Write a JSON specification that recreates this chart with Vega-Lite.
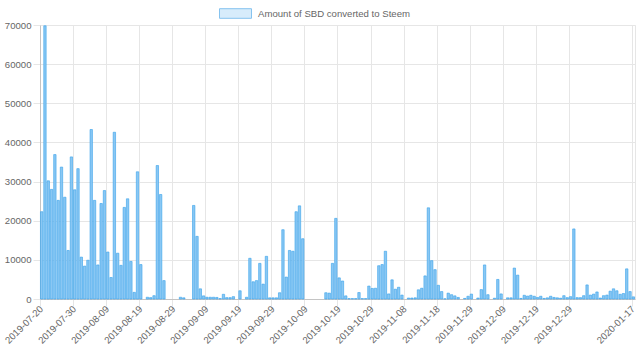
{
"$schema": "https://vega.github.io/schema/vega-lite/v6.json",
"width": 595, "height": 274,
"autosize": {"type": "none"},
"padding": {"left": 40, "top": 25, "right": 5, "bottom": 62},
"background": "white",
"view": {"stroke": "#e6e6e6"},
"config": {"font": "Liberation Sans"},
"data": {"values": [
{"date":"2019-07-20","value":22300},{"date":"2019-07-21","value":69800},{"date":"2019-07-22","value":30200},{"date":"2019-07-23","value":28000},{"date":"2019-07-24","value":36900},{"date":"2019-07-25","value":25200},{"date":"2019-07-26","value":33700},{"date":"2019-07-27","value":26000},{"date":"2019-07-28","value":12400},{"date":"2019-07-29","value":36300},
{"date":"2019-07-30","value":27900},{"date":"2019-07-31","value":33300},{"date":"2019-08-01","value":10700},{"date":"2019-08-02","value":8400},{"date":"2019-08-03","value":9900},{"date":"2019-08-04","value":43300},{"date":"2019-08-05","value":25200},{"date":"2019-08-06","value":8700},{"date":"2019-08-07","value":24400},{"date":"2019-08-08","value":27700},
{"date":"2019-08-09","value":12000},{"date":"2019-08-10","value":5500},{"date":"2019-08-11","value":42600},{"date":"2019-08-12","value":11700},{"date":"2019-08-13","value":8600},{"date":"2019-08-14","value":23400},{"date":"2019-08-15","value":25600},{"date":"2019-08-16","value":9600},{"date":"2019-08-17","value":1700},{"date":"2019-08-18","value":32500},
{"date":"2019-08-19","value":8800},{"date":"2019-08-20","value":0},{"date":"2019-08-21","value":450},{"date":"2019-08-22","value":350},{"date":"2019-08-23","value":850},{"date":"2019-08-24","value":34100},{"date":"2019-08-25","value":26700},{"date":"2019-08-26","value":4700},{"date":"2019-08-27","value":0},{"date":"2019-08-28","value":0},
{"date":"2019-08-29","value":0},{"date":"2019-08-30","value":0},{"date":"2019-08-31","value":450},{"date":"2019-09-02","value":300},{"date":"2019-09-03","value":0},{"date":"2019-09-04","value":0},{"date":"2019-09-05","value":23900},{"date":"2019-09-06","value":16000},{"date":"2019-09-07","value":2600},{"date":"2019-09-08","value":800},
{"date":"2019-09-09","value":450},{"date":"2019-09-10","value":450},{"date":"2019-09-11","value":450},{"date":"2019-09-12","value":400},{"date":"2019-09-13","value":100},{"date":"2019-09-14","value":1200},{"date":"2019-09-15","value":350},{"date":"2019-09-16","value":350},{"date":"2019-09-17","value":600},{"date":"2019-09-18","value":0},
{"date":"2019-09-19","value":2100},{"date":"2019-09-20","value":0},{"date":"2019-09-21","value":450},{"date":"2019-09-22","value":10400},{"date":"2019-09-23","value":4400},{"date":"2019-09-24","value":4700},{"date":"2019-09-25","value":9100},{"date":"2019-09-26","value":3800},{"date":"2019-09-27","value":10900},{"date":"2019-09-28","value":300},
{"date":"2019-09-29","value":300},{"date":"2019-09-30","value":300},{"date":"2019-10-01","value":1600},{"date":"2019-10-02","value":17700},{"date":"2019-10-03","value":5600},{"date":"2019-10-04","value":12400},{"date":"2019-10-05","value":12200},{"date":"2019-10-06","value":22300},{"date":"2019-10-07","value":23800},{"date":"2019-10-08","value":15400},
{"date":"2019-10-09","value":0},{"date":"2019-10-10","value":0},{"date":"2019-10-11","value":0},{"date":"2019-10-12","value":0},{"date":"2019-10-13","value":0},{"date":"2019-10-14","value":0},{"date":"2019-10-15","value":1600},{"date":"2019-10-16","value":1500},{"date":"2019-10-17","value":9100},{"date":"2019-10-18","value":20600},
{"date":"2019-10-19","value":5400},{"date":"2019-10-20","value":4600},{"date":"2019-10-21","value":800},{"date":"2019-10-22","value":100},{"date":"2019-10-23","value":100},{"date":"2019-10-24","value":100},{"date":"2019-10-25","value":1650},{"date":"2019-10-26","value":100},{"date":"2019-10-27","value":100},{"date":"2019-10-28","value":3300},
{"date":"2019-10-29","value":2700},{"date":"2019-10-30","value":2750},{"date":"2019-10-31","value":8500},{"date":"2019-11-01","value":8800},{"date":"2019-11-02","value":12200},{"date":"2019-11-03","value":1300},{"date":"2019-11-04","value":4900},{"date":"2019-11-05","value":2500},{"date":"2019-11-06","value":3000},{"date":"2019-11-07","value":1000},
{"date":"2019-11-08","value":0},{"date":"2019-11-09","value":250},{"date":"2019-11-10","value":250},{"date":"2019-11-11","value":300},{"date":"2019-11-12","value":2350},{"date":"2019-11-13","value":2750},{"date":"2019-11-14","value":5900},{"date":"2019-11-15","value":23300},{"date":"2019-11-16","value":9800},{"date":"2019-11-17","value":7500},
{"date":"2019-11-18","value":3500},{"date":"2019-11-19","value":1900},{"date":"2019-11-20","value":50},{"date":"2019-11-21","value":1500},{"date":"2019-11-22","value":1100},{"date":"2019-11-23","value":800},{"date":"2019-11-24","value":400},{"date":"2019-11-25","value":0},{"date":"2019-11-26","value":150},{"date":"2019-11-27","value":700},
{"date":"2019-11-29","value":1250},{"date":"2019-11-30","value":0},{"date":"2019-12-01","value":250},{"date":"2019-12-02","value":2400},{"date":"2019-12-03","value":8700},{"date":"2019-12-04","value":1100},{"date":"2019-12-05","value":0},{"date":"2019-12-06","value":200},{"date":"2019-12-07","value":5000},{"date":"2019-12-08","value":1300},
{"date":"2019-12-09","value":0},{"date":"2019-12-10","value":300},{"date":"2019-12-11","value":300},{"date":"2019-12-12","value":7900},{"date":"2019-12-13","value":6100},{"date":"2019-12-14","value":150},{"date":"2019-12-15","value":950},{"date":"2019-12-16","value":750},{"date":"2019-12-17","value":950},{"date":"2019-12-18","value":700},
{"date":"2019-12-19","value":400},{"date":"2019-12-20","value":700},{"date":"2019-12-21","value":150},{"date":"2019-12-22","value":300},{"date":"2019-12-23","value":700},{"date":"2019-12-24","value":400},{"date":"2019-12-25","value":300},{"date":"2019-12-26","value":200},{"date":"2019-12-27","value":850},{"date":"2019-12-28","value":350},
{"date":"2019-12-29","value":600},{"date":"2019-12-30","value":17900},{"date":"2019-12-31","value":350},{"date":"2020-01-01","value":350},{"date":"2020-01-02","value":850},{"date":"2020-01-03","value":3600},{"date":"2020-01-04","value":1000},{"date":"2020-01-05","value":1250},{"date":"2020-01-06","value":1800},{"date":"2020-01-07","value":250},
{"date":"2020-01-08","value":850},{"date":"2020-01-09","value":1000},{"date":"2020-01-10","value":2000},{"date":"2020-01-11","value":2600},{"date":"2020-01-12","value":2100},{"date":"2020-01-13","value":1200},{"date":"2020-01-14","value":1400},{"date":"2020-01-15","value":7700},{"date":"2020-01-16","value":1900},{"date":"2020-01-17","value":550}
]},
"encoding": {
  "x": {"field": "date", "type": "ordinal",
    "scale": {"paddingInner": 0.28, "paddingOuter": 0.14},
    "axis": {"title": null,
      "values": ["2019-07-20","2019-07-30","2019-08-09","2019-08-19","2019-08-29","2019-09-09","2019-09-19","2019-09-29","2019-10-09","2019-10-19","2019-10-29","2019-11-08","2019-11-18","2019-11-29","2019-12-09","2019-12-19","2019-12-29","2020-01-17"],
      "labelAngle": -45, "labelAlign": "right", "labelBaseline": "middle",
      "labelFontSize": 9.6, "labelColor": "#666", "labelOverlap": false, "labelBound": false, "labelFlush": false,
      "bandPosition": 0, "grid": true, "gridColor": "#e6e6e6", "tickColor": "#e6e6e6", "tickSize": 7, "labelPadding": 1,
      "domainColor": "#c4c4c4"}},
  "y": {"field": "value", "type": "quantitative",
    "scale": {"domain": [0, 70000]},
    "axis": {"title": null, "values": [0,10000,20000,30000,40000,50000,60000,70000], "format": "d",
      "grid": true, "gridColor": "#e6e6e6", "tickColor": "#e6e6e6", "tickSize": 7, "labelPadding": 2,
      "labelFontSize": 9.6, "labelColor": "#666", "domainColor": "#c4c4c4"}}
},
"layer": [
  {
    "mark": {"type": "bar", "fill": "#8ac7f3", "stroke": "#36a2eb", "strokeWidth": 1},
    "encoding": {
      "strokeOpacity": {"condition": {"test": "datum.value <= 0", "value": 0}, "value": 0.6}
    }
  },
  {
    "transform": [{"filter": "datum.value < 0"}],
    "mark": {"type": "bar", "stroke": "#86c3ef", "strokeWidth": 1},
    "encoding": {
      "fill": {"datum": "Amount of SBD converted to Steem", "type": "nominal",
        "scale": {"range": ["#d7ecfb"]},
        "legend": {"orient": "none", "legendX": 179, "legendY": -28, "title": null,
          "symbolType": "M-1,-0.3H1V0.3H-1Z", "symbolSize": 1024,
          "symbolStrokeColor": "#86c3ef", "symbolStrokeWidth": 1, "symbolOpacity": 1,
          "labelFontSize": 9.6, "labelColor": "#666", "labelOffset": 6, "padding": 0}}
    }
  }
]
}
